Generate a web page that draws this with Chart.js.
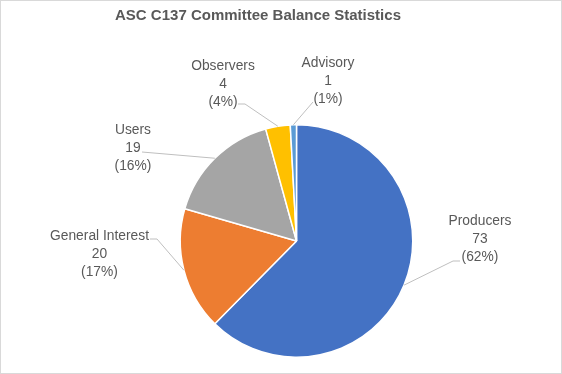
<!DOCTYPE html>
<html>
<head>
<meta charset="utf-8">
<script src="https://cdn.jsdelivr.net/npm/chart.js@4.4.1/dist/chart.umd.min.js"></script>
<style>
  html, body { margin: 0; padding: 0; background: #fff; }
  #wrap { width: 562px; height: 374px; position: relative; }
</style>
</head>
<body>
<div id="wrap"><canvas id="pie" width="562" height="374"></canvas></div>
<script>
// data
const titleText = "ASC C137 Committee Balance Statistics";
const categories = ["Producers", "General Interest", "Users", "Observers", "Advisory"];
const members = [73, 20, 19, 4, 1];
const percentLabels = ["62%", "17%", "16%", "4%", "1%"];
const sliceColors = ["#4472C4", "#ED7D31", "#A5A5A5", "#FFC000", "#5B9BD5"];

// where excel put the data labels (middle line centre + leader end)
const labelSpots = [
  { x: 480, y: 239, lx: 460, ly: 261, side: -1 },
  { x: 99.5, y: 254, lx: 150, ly: 239, side: 1 },
  { x: 133, y: 148, lx: 142, ly: 152, side: 0 },
  { x: 223, y: 84, lx: 238, ly: 104, side: 1 },
  { x: 328, y: 81, lx: 313, ly: 102, side: 0 },
];

const labelPlugin = {
  id: "excelLabels",
  afterDraw(chart) {
    const ctx = chart.ctx;
    const meta = chart.getDatasetMeta(0);
    ctx.save();

    // outer frame
    ctx.strokeStyle = "#d9d9d9";
    ctx.lineWidth = 1;
    ctx.strokeRect(0.5, 0.5, chart.width - 1, chart.height - 1);

    // title
    ctx.fillStyle = "#595959";
    ctx.font = "bold 15px 'Liberation Sans', Arial, sans-serif";
    ctx.textAlign = "center";
    ctx.textBaseline = "middle";
    ctx.fillText(titleText, 258, 16);

    meta.data.forEach((arc, i) => {
      const spot = labelSpots[i];
      const mid = (arc.startAngle + arc.endAngle) / 2;
      const ex = arc.x + Math.cos(mid) * arc.outerRadius;
      const ey = arc.y + Math.sin(mid) * arc.outerRadius;

      ctx.strokeStyle = "#bfbfbf";
      ctx.lineWidth = 1;
      ctx.beginPath();
      ctx.moveTo(ex, ey);
      if (spot.side !== 0) {
        ctx.lineTo(spot.lx + spot.side * 7, spot.ly);
      }
      ctx.lineTo(spot.lx, spot.ly);
      ctx.stroke();

      const lines = [categories[i], String(members[i]), "(" + percentLabels[i] + ")"];
      ctx.fillStyle = "#595959";
      ctx.font = "13.8px 'Liberation Sans', Arial, sans-serif";
      ctx.textAlign = "center";
      ctx.textBaseline = "middle";
      lines.forEach((t, k) => {
        ctx.fillText(t, spot.x, spot.y + (k - 1) * 18.3);
      });
    });
    ctx.restore();
  },
};

new Chart(document.getElementById("pie"), {
  type: "pie",
  data: {
    labels: categories,
    datasets: [
      {
        data: members,
        backgroundColor: sliceColors,
        borderColor: "#ffffff",
        borderWidth: 1.5,
      },
    ],
  },
  options: {
    responsive: false,
    animation: false,
    layout: {
      padding: { top: 124, bottom: 16, left: 179, right: 148 },
    },
    plugins: {
      legend: { display: false },
      tooltip: { enabled: false },
      title: { display: false },
    },
  },
  plugins: [labelPlugin],
});
</script>
</body>
</html>
